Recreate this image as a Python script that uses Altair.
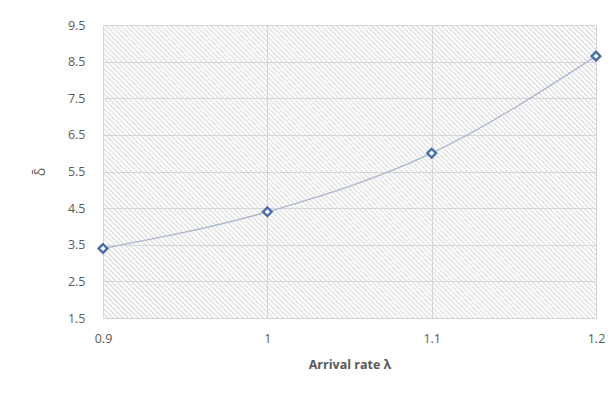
import altair as alt
import pandas as pd

arrival_rate = [0.9, 1.0, 1.1, 1.2]
delta_bar = [3.4, 4.4, 6.0, 8.65]
x_ticks = [0.9, 1.0, 1.1, 1.2]
y_ticks = [1.5, 2.5, 3.5, 4.5, 5.5, 6.5, 7.5, 8.5, 9.5]
x_domain = [0.9, 1.2]
y_domain = [1.5, 9.5]

df = pd.DataFrame({"rate": arrival_rate, "delta": delta_bar})
bg = pd.DataFrame({"rate": [x_domain[0]], "rate2": [x_domain[1]],
                   "delta": [y_domain[0]], "delta2": [y_domain[1]]})

W, H = 493, 293
# diagonal hatch as a repeating linear gradient (style only)
r = H / W
lam = (1 + r) / (1 + r * r)
N = 157
hatch = "rgba(200,200,200,0.7)"
clear = "rgba(255,255,255,0)"
stops = []
for k in range(N):
    stops.append(alt.GradientStop(color=hatch, offset=round(k / N, 5)))
    stops.append(alt.GradientStop(color=clear, offset=round((k + 0.5) / N, 5)))
stops.append(alt.GradientStop(color=hatch, offset=1))
grad = alt.LinearGradient(gradient="linear", stops=stops, x1=0, y1=1, x2=lam, y2=1 - lam * r)

xscale = alt.Scale(domain=x_domain, nice=False, zero=False)
yscale = alt.Scale(domain=y_domain, nice=False, zero=False)

xaxis = alt.Axis(values=x_ticks, format="~g", title="Arrival rate λ", labelPadding=14,
                 titlePadding=14, labelFlush=False, labelOverlap=False, grid=True,
                 gridColor="#d2d2d2", tickCount=4)
yaxis = alt.Axis(values=y_ticks, format=".1f", title="δ̄", labelPadding=18, titlePadding=20,
                 labelOverlap=False, grid=True, gridColor="#d2d2d2", tickCount=9)

back = alt.Chart(bg).mark_rect(color=grad).encode(
    x=alt.X("rate:Q", scale=xscale, axis=xaxis),
    x2="rate2:Q",
    y=alt.Y("delta:Q", scale=yscale, axis=yaxis),
    y2="delta2:Q",
)

line = alt.Chart(df).mark_line(
    interpolate="monotone", color="#aab6d0", strokeWidth=1.3
).encode(x="rate:Q", y="delta:Q")

pts = alt.Chart(df).mark_point(
    shape="diamond", size=75, filled=True, fill="white", stroke="#4a6ea8", strokeWidth=2.4, opacity=1
).encode(x="rate:Q", y="delta:Q")

chart = (
    alt.layer(back, line, pts)
    .properties(
        width=W, height=H,
        autosize=alt.AutoSizeParams(type="none"),
        padding={"left": 95, "top": 17, "right": 12, "bottom": 70},
        background="white",
    )
    .configure_view(stroke="#d9d9d9", strokeWidth=1)
    .configure_axis(
        domain=False, ticks=False,
        labelFont="Open Sans", labelFontSize=12.5, labelColor="#595959",
        titleFont="Open Sans", titleFontSize=12.5, titleColor="#595959",
    )
    .configure_axisY(titleFontWeight="normal", titleAngle=-90, titleFontSize=14)
    .configure_axisX(titleFontWeight="bold")
)

chart.save("out.html", embed_options={"renderer": "svg", "actions": False})
